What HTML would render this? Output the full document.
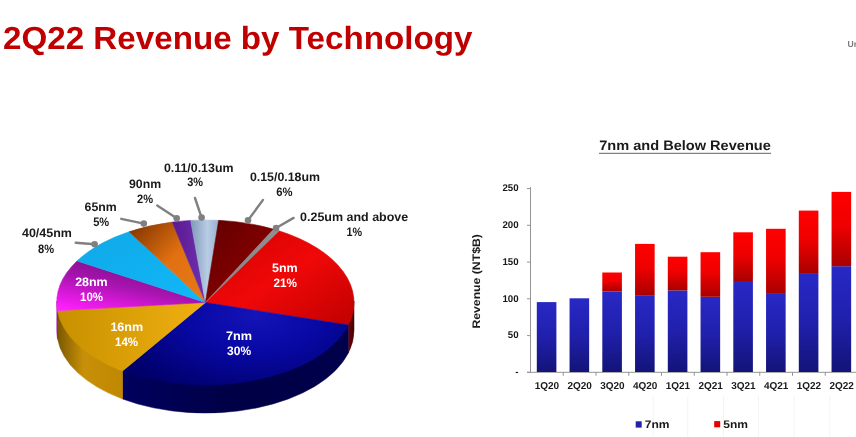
<!DOCTYPE html>
<html><head><meta charset="utf-8"><title>2Q22 Revenue by Technology</title>
<style>
html,body{margin:0;padding:0;background:#fff;}
body{width:856px;height:437px;overflow:hidden;}
svg{display:block;}
text{font-family:"Liberation Sans",Arial,sans-serif;font-weight:bold;text-rendering:geometricPrecision;}
.title{font-size:32px;fill:#c00000;}
.pl{font-size:12.2px;}
.ct{font-size:13.7px;fill:#1a1a1a;}
.al{font-size:9.7px;fill:#1a1a1a;}
.cl{font-size:10px;fill:#1a1a1a;}
.yl{font-size:10.9px;fill:#1a1a1a;}
.lg{font-size:11px;fill:#1a1a1a;}
.un{font-size:8.6px;fill:#7a7a7a;}
</style></head><body>
<svg width="856" height="437" viewBox="0 0 856 437">
<defs>
<linearGradient id="g-red" x1="0" y1="0" x2="1" y2="1"><stop offset="0" stop-color="#d00000"/><stop offset="0.5" stop-color="#f00808"/><stop offset="1" stop-color="#c00000"/></linearGradient>
<radialGradient id="g-blue" gradientUnits="userSpaceOnUse" cx="255" cy="315" r="150" gradientTransform="translate(0,140) scale(1,0.555)"><stop offset="0" stop-color="#1414b8"/><stop offset="0.45" stop-color="#0808a4"/><stop offset="1" stop-color="#00006c"/></radialGradient>
<linearGradient id="g-gold" x1="0" y1="0" x2="1" y2="0"><stop offset="0" stop-color="#c89000"/><stop offset="1" stop-color="#f0b010"/></linearGradient>
<linearGradient id="g-mag" x1="0.1" y1="1" x2="0.7" y2="0"><stop offset="0" stop-color="#ff20ff"/><stop offset="0.25" stop-color="#d818d8"/><stop offset="0.5" stop-color="#a814b0"/><stop offset="0.8" stop-color="#881090"/><stop offset="1" stop-color="#7c1085"/></linearGradient>
<linearGradient id="g-cyan" x1="0" y1="0" x2="1" y2="1"><stop offset="0" stop-color="#10a8e8"/><stop offset="1" stop-color="#10b8f8"/></linearGradient>
<linearGradient id="g-orange" x1="0" y1="0" x2="1" y2="1"><stop offset="0" stop-color="#7a3000"/><stop offset="0.5" stop-color="#e07010"/><stop offset="1" stop-color="#e87818"/></linearGradient>
<linearGradient id="g-purple" x1="0" y1="0" x2="1" y2="0"><stop offset="0" stop-color="#5a1890"/><stop offset="1" stop-color="#7030b0"/></linearGradient>
<linearGradient id="g-lblue" x1="0" y1="0" x2="1" y2="0"><stop offset="0" stop-color="#8098b8"/><stop offset="0.6" stop-color="#b8cce4"/><stop offset="1" stop-color="#98b0d0"/></linearGradient>
<linearGradient id="g-dred" x1="0" y1="0" x2="1" y2="1"><stop offset="0" stop-color="#600000"/><stop offset="1" stop-color="#980000"/></linearGradient>
<linearGradient id="g-gray" x1="0" y1="0" x2="1" y2="0"><stop offset="0" stop-color="#808080"/><stop offset="1" stop-color="#909090"/></linearGradient>
<linearGradient id="s-red" x1="0" y1="0" x2="1" y2="0"><stop offset="0" stop-color="#780000"/><stop offset="1" stop-color="#400000"/></linearGradient>
<linearGradient id="s-blue" x1="0" y1="0" x2="1" y2="0"><stop offset="0" stop-color="#00005e"/><stop offset="0.5" stop-color="#000046"/><stop offset="1" stop-color="#00004c"/></linearGradient>
<linearGradient id="s-gold" x1="0" y1="0" x2="1" y2="0"><stop offset="0" stop-color="#7a5800"/><stop offset="0.4" stop-color="#c89008"/><stop offset="1" stop-color="#c08800"/></linearGradient>
<linearGradient id="s-mag" x1="0" y1="0" x2="1" y2="0"><stop offset="0" stop-color="#a000a0"/><stop offset="1" stop-color="#a000a0"/></linearGradient>
<linearGradient id="b-blue" x1="0" y1="0" x2="0" y2="1"><stop offset="0" stop-color="#2828c6"/><stop offset="0.5" stop-color="#2020ac"/><stop offset="1" stop-color="#131378"/></linearGradient>
<linearGradient id="b-red" x1="0" y1="0" x2="0" y2="1"><stop offset="0" stop-color="#ff0000"/><stop offset="0.45" stop-color="#f00000"/><stop offset="1" stop-color="#a80000"/></linearGradient>
</defs>

<rect width="856" height="437" fill="#fff"/>
<line x1="653.2" y1="396" x2="653.2" y2="437" stroke="#f4f4f4" stroke-width="1"/>
<line x1="687.8" y1="396" x2="687.8" y2="437" stroke="#f4f4f4" stroke-width="1"/>
<line x1="723.5" y1="396" x2="723.5" y2="437" stroke="#f4f4f4" stroke-width="1"/>
<line x1="758.5" y1="396" x2="758.5" y2="437" stroke="#f4f4f4" stroke-width="1"/>
<line x1="794" y1="396" x2="794" y2="437" stroke="#f4f4f4" stroke-width="1"/>
<line x1="829.7" y1="396" x2="829.7" y2="437" stroke="#f4f4f4" stroke-width="1"/>
<path d="M354.00,301.00 A148.6,82.5 0 0 1 348.31,323.60 L348.31,353.10 A148.6,82.5 0 0 0 354.00,330.50 Z" fill="url(#s-red)" stroke="url(#s-red)" stroke-width="0.5"/>
<path d="M348.31,323.60 A148.6,82.5 0 0 1 122.52,369.48 L122.52,398.98 A148.6,82.5 0 0 0 348.31,353.10 Z" fill="url(#s-blue)" stroke="url(#s-blue)" stroke-width="0.5"/>
<path d="M122.52,369.48 A148.6,82.5 0 0 1 57.53,309.19 L57.53,338.69 A148.6,82.5 0 0 0 122.52,398.98 Z" fill="url(#s-gold)" stroke="url(#s-gold)" stroke-width="0.5"/>
<path d="M57.53,309.19 A148.6,82.5 0 0 1 56.80,301.00 L56.80,330.50 A148.6,82.5 0 0 0 57.53,338.69 Z" fill="url(#s-mag)" stroke="url(#s-mag)" stroke-width="0.5"/>
<path d="M205.4,302.5 L278.80,230.77 A148.6,82.5 0 0 1 348.31,325.10 Z" fill="url(#g-red)" stroke="url(#g-red)" stroke-width="0.6"/>
<path d="M205.4,302.5 L348.31,325.10 A148.6,82.5 0 0 1 122.52,370.98 Z" fill="url(#g-blue)" stroke="url(#g-blue)" stroke-width="0.6"/>
<path d="M205.4,302.5 L122.52,370.98 A148.6,82.5 0 0 1 57.53,310.69 Z" fill="url(#g-gold)" stroke="url(#g-gold)" stroke-width="0.6"/>
<path d="M205.4,302.5 L57.53,310.69 A148.6,82.5 0 0 1 77.10,260.88 Z" fill="url(#g-mag)" stroke="url(#g-mag)" stroke-width="0.6"/>
<path d="M205.4,302.5 L77.10,260.88 A148.6,82.5 0 0 1 129.09,231.71 Z" fill="url(#g-cyan)" stroke="url(#g-cyan)" stroke-width="0.6"/>
<path d="M205.4,302.5 L129.09,231.71 A148.6,82.5 0 0 1 172.23,222.08 Z" fill="url(#g-orange)" stroke="url(#g-orange)" stroke-width="0.6"/>
<path d="M205.4,302.5 L172.23,222.08 A148.6,82.5 0 0 1 190.64,220.41 Z" fill="url(#g-purple)" stroke="url(#g-purple)" stroke-width="0.6"/>
<path d="M205.4,302.5 L190.64,220.41 A148.6,82.5 0 0 1 218.61,220.33 Z" fill="url(#g-lblue)" stroke="url(#g-lblue)" stroke-width="0.6"/>
<path d="M205.4,302.5 L218.61,220.33 A148.6,82.5 0 0 1 273.79,229.26 Z" fill="url(#g-dred)" stroke="url(#g-dred)" stroke-width="0.6"/>
<path d="M205.4,302.5 L273.56,229.19 A148.6,82.5 0 0 1 279.03,230.84 Z" fill="url(#g-gray)" stroke="url(#g-gray)" stroke-width="0.6"/>
<line x1="276.1" y1="228" x2="293.6" y2="217.9" stroke="#808080" stroke-width="2.4" stroke-linecap="round"/><circle cx="276.1" cy="228" r="3.3" fill="#808080"/>
<line x1="248" y1="220.3" x2="263" y2="199.9" stroke="#808080" stroke-width="2.4" stroke-linecap="round"/><circle cx="248" cy="220.3" r="3.3" fill="#808080"/>
<line x1="201.6" y1="217.6" x2="195" y2="198" stroke="#808080" stroke-width="2.4" stroke-linecap="round"/><circle cx="201.6" cy="217.6" r="3.3" fill="#808080"/>
<line x1="176.7" y1="218.2" x2="157.2" y2="205.4" stroke="#808080" stroke-width="2.4" stroke-linecap="round"/><circle cx="176.7" cy="218.2" r="3.3" fill="#808080"/>
<line x1="143.8" y1="223.6" x2="121.3" y2="218.8" stroke="#808080" stroke-width="2.4" stroke-linecap="round"/><circle cx="143.8" cy="223.6" r="3.3" fill="#808080"/>
<line x1="94.6" y1="244.2" x2="75.7" y2="242.7" stroke="#808080" stroke-width="2.4" stroke-linecap="round"/><circle cx="94.6" cy="244.2" r="3.3" fill="#808080"/>
<text x="163.9" y="171.9" textLength="69.6" lengthAdjust="spacingAndGlyphs" class="pl" fill="#1a1a1a">0.11/0.13um</text>
<text x="187.2" y="186.3" textLength="15.8" lengthAdjust="spacingAndGlyphs" class="pl" fill="#1a1a1a">3%</text>
<text x="249.9" y="180.9" textLength="70.1" lengthAdjust="spacingAndGlyphs" class="pl" fill="#1a1a1a">0.15/0.18um</text>
<text x="276.3" y="196.1" textLength="16.3" lengthAdjust="spacingAndGlyphs" class="pl" fill="#1a1a1a">6%</text>
<text x="300.1" y="220.6" textLength="108.1" lengthAdjust="spacingAndGlyphs" class="pl" fill="#1a1a1a">0.25um and above</text>
<text x="346.4" y="235.8" textLength="15.6" lengthAdjust="spacingAndGlyphs" class="pl" fill="#1a1a1a">1%</text>
<text x="129.0" y="187.8" textLength="32.1" lengthAdjust="spacingAndGlyphs" class="pl" fill="#1a1a1a">90nm</text>
<text x="137.0" y="203.2" textLength="16.0" lengthAdjust="spacingAndGlyphs" class="pl" fill="#1a1a1a">2%</text>
<text x="84.6" y="210.9" textLength="32.1" lengthAdjust="spacingAndGlyphs" class="pl" fill="#1a1a1a">65nm</text>
<text x="93.2" y="226.4" textLength="16.0" lengthAdjust="spacingAndGlyphs" class="pl" fill="#1a1a1a">5%</text>
<text x="22.0" y="237.2" textLength="49.9" lengthAdjust="spacingAndGlyphs" class="pl" fill="#1a1a1a">40/45nm</text>
<text x="38.1" y="252.7" textLength="16.0" lengthAdjust="spacingAndGlyphs" class="pl" fill="#1a1a1a">8%</text>
<text x="272.0" y="272.0" textLength="25.7" lengthAdjust="spacingAndGlyphs" class="pl" fill="#fff">5nm</text>
<text x="273.4" y="287.0" textLength="23.5" lengthAdjust="spacingAndGlyphs" class="pl" fill="#fff">21%</text>
<text x="225.9" y="340.2" textLength="26.1" lengthAdjust="spacingAndGlyphs" class="pl" fill="#fff">7nm</text>
<text x="227.1" y="355.4" textLength="24.0" lengthAdjust="spacingAndGlyphs" class="pl" fill="#fff">30%</text>
<text x="110.4" y="330.8" textLength="32.8" lengthAdjust="spacingAndGlyphs" class="pl" fill="#fff">16nm</text>
<text x="115.0" y="345.8" textLength="23.1" lengthAdjust="spacingAndGlyphs" class="pl" fill="#fff">14%</text>
<text x="75.2" y="285.5" textLength="32.5" lengthAdjust="spacingAndGlyphs" class="pl" fill="#fff">28nm</text>
<text x="80.1" y="300.5" textLength="23.0" lengthAdjust="spacingAndGlyphs" class="pl" fill="#fff">10%</text>
<text x="3.0" y="48.7" textLength="469.4" lengthAdjust="spacingAndGlyphs" class="title">2Q22 Revenue by Technology</text>
<text x="847.6" y="47" class="un">Unaudited</text>
<text x="599.2" y="150.1" textLength="171.6" lengthAdjust="spacingAndGlyphs" class="ct">7nm and Below Revenue</text>
<rect x="599" y="152.8" width="172" height="1.1" fill="#707070"/>
<line x1="530.5" y1="187" x2="530.5" y2="372.5" stroke="#949494" stroke-width="1"/>
<line x1="527.0" y1="372.3" x2="857" y2="372.3" stroke="#949494" stroke-width="1"/>
<line x1="527.0" y1="372.3" x2="530.5" y2="372.3" stroke="#949494" stroke-width="1"/>
<text x="518.6" y="375.1" text-anchor="end" class="al">-</text>
<line x1="527.0" y1="335.6" x2="530.5" y2="335.6" stroke="#949494" stroke-width="1"/>
<text x="518.6" y="338.4" text-anchor="end" class="al">50</text>
<line x1="527.0" y1="298.8" x2="530.5" y2="298.8" stroke="#949494" stroke-width="1"/>
<text x="518.6" y="301.6" text-anchor="end" class="al">100</text>
<line x1="527.0" y1="262.1" x2="530.5" y2="262.1" stroke="#949494" stroke-width="1"/>
<text x="518.6" y="264.9" text-anchor="end" class="al">150</text>
<line x1="527.0" y1="225.3" x2="530.5" y2="225.3" stroke="#949494" stroke-width="1"/>
<text x="518.6" y="228.1" text-anchor="end" class="al">200</text>
<line x1="527.0" y1="188.6" x2="530.5" y2="188.6" stroke="#949494" stroke-width="1"/>
<text x="518.6" y="191.3" text-anchor="end" class="al">250</text>
<rect x="536.80" y="302.1" width="19.6" height="69.90" fill="url(#b-blue)"/>
<text x="546.90" y="388.8" text-anchor="middle" class="cl">1Q20</text>
<line x1="563.25" y1="372" x2="563.25" y2="375.8" stroke="#949494" stroke-width="1"/>
<rect x="569.55" y="298.3" width="19.6" height="73.70" fill="url(#b-blue)"/>
<text x="579.65" y="388.8" text-anchor="middle" class="cl">2Q20</text>
<line x1="596.00" y1="372" x2="596.00" y2="375.8" stroke="#949494" stroke-width="1"/>
<rect x="602.30" y="291.4" width="19.6" height="80.60" fill="url(#b-blue)"/>
<rect x="602.30" y="272.5" width="19.6" height="18.90" fill="url(#b-red)"/>
<text x="612.40" y="388.8" text-anchor="middle" class="cl">3Q20</text>
<line x1="628.75" y1="372" x2="628.75" y2="375.8" stroke="#949494" stroke-width="1"/>
<rect x="635.05" y="295.8" width="19.6" height="76.20" fill="url(#b-blue)"/>
<rect x="635.05" y="243.9" width="19.6" height="51.90" fill="url(#b-red)"/>
<text x="645.15" y="388.8" text-anchor="middle" class="cl">4Q20</text>
<line x1="661.50" y1="372" x2="661.50" y2="375.8" stroke="#949494" stroke-width="1"/>
<rect x="667.80" y="290.4" width="19.6" height="81.60" fill="url(#b-blue)"/>
<rect x="667.80" y="256.7" width="19.6" height="33.70" fill="url(#b-red)"/>
<text x="677.90" y="388.8" text-anchor="middle" class="cl">1Q21</text>
<line x1="694.25" y1="372" x2="694.25" y2="375.8" stroke="#949494" stroke-width="1"/>
<rect x="700.55" y="296.8" width="19.6" height="75.20" fill="url(#b-blue)"/>
<rect x="700.55" y="252.2" width="19.6" height="44.60" fill="url(#b-red)"/>
<text x="710.65" y="388.8" text-anchor="middle" class="cl">2Q21</text>
<line x1="727.00" y1="372" x2="727.00" y2="375.8" stroke="#949494" stroke-width="1"/>
<rect x="733.30" y="281" width="19.6" height="91.00" fill="url(#b-blue)"/>
<rect x="733.30" y="232.3" width="19.6" height="48.70" fill="url(#b-red)"/>
<text x="743.40" y="388.8" text-anchor="middle" class="cl">3Q21</text>
<line x1="759.75" y1="372" x2="759.75" y2="375.8" stroke="#949494" stroke-width="1"/>
<rect x="766.05" y="293.9" width="19.6" height="78.10" fill="url(#b-blue)"/>
<rect x="766.05" y="228.8" width="19.6" height="65.10" fill="url(#b-red)"/>
<text x="776.15" y="388.8" text-anchor="middle" class="cl">4Q21</text>
<line x1="792.50" y1="372" x2="792.50" y2="375.8" stroke="#949494" stroke-width="1"/>
<rect x="798.80" y="273.9" width="19.6" height="98.10" fill="url(#b-blue)"/>
<rect x="798.80" y="210.6" width="19.6" height="63.30" fill="url(#b-red)"/>
<text x="808.90" y="388.8" text-anchor="middle" class="cl">1Q22</text>
<line x1="825.25" y1="372" x2="825.25" y2="375.8" stroke="#949494" stroke-width="1"/>
<rect x="831.55" y="266.2" width="19.6" height="105.80" fill="url(#b-blue)"/>
<rect x="831.55" y="191.9" width="19.6" height="74.30" fill="url(#b-red)"/>
<text x="841.65" y="388.8" text-anchor="middle" class="cl">2Q22</text>
<line x1="858.00" y1="372" x2="858.00" y2="375.8" stroke="#949494" stroke-width="1"/>
<text transform="translate(479.6,328.6) rotate(-90)" textLength="94.5" lengthAdjust="spacingAndGlyphs" class="yl">Revenue (NT$B)</text>
<rect x="635.7" y="421.3" width="6" height="6.3" fill="#2222a8"/>
<text x="644.7" y="428.3" textLength="24.8" lengthAdjust="spacingAndGlyphs" class="lg">7nm</text>
<rect x="714.2" y="421.1" width="6" height="6.2" fill="#e80000"/>
<text x="723.2" y="428.3" textLength="24.8" lengthAdjust="spacingAndGlyphs" class="lg">5nm</text>
</svg>
</body></html>
